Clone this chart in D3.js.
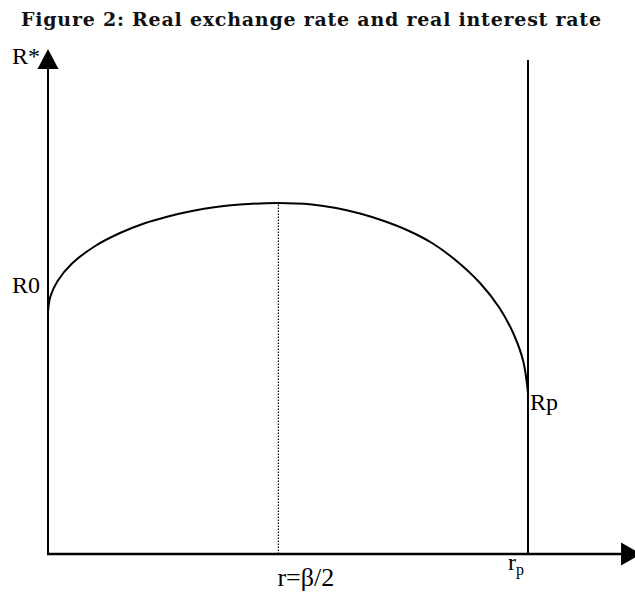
<!DOCTYPE html>
<html>
<head>
<meta charset="utf-8">
<script src="https://cdn.jsdelivr.net/npm/d3@7"></script>
<style>
  html, body { margin: 0; padding: 0; background: #fff; }
  svg { display: block; }
  .lbl { font-family: "Liberation Serif", "Times New Roman", Times, serif; }
</style>
</head>
<body>
<svg id="chart" width="635" height="594"></svg>
<script>
// Real interest rate r (horizontal) and the real exchange rate R* (vertical)
const rValues = [0, 0.5, 2, 5, 10, 15, 20, 25, 30, 35, 40, 48, 55, 60, 65, 70, 75, 80, 85, 90, 94, 97, 99, 100];
const rStarValues = [48.4, 51.5, 54.6, 58.1, 61.7, 64.2, 66.1, 67.5, 68.6, 69.4, 69.9, 70.2,
                     69.9, 69.2, 68.1, 66.6, 64.7, 62.2, 58.7, 54.2, 49.3, 44.0, 38.6, 32.2];

// Key points on the axes
const rHalfBeta = 48;      // r = β/2, where R* peaks
const rCeiling = 100;      // r_p
const rStarPeak = 70.2;
const rCeilingTop = 98.8;
const xAxisMax = 122.3;
const yAxisMax = 101;

const titleText = "Figure 2: Real exchange rate and real interest rate";
const yAxisLabel = "R*";
const r0Label = "R0";
const rpLabel = "Rp";
const betaLabel = "r=\u03b2/2";

const svg = d3.select("#chart");

const x = d3.scaleLinear().domain([0, 100]).range([48, 528]);
const y = d3.scaleLinear().domain([0, 100]).range([554, 54]);

// Title
svg.append("text")
  .attr("x", 311)
  .attr("y", 26)
  .attr("text-anchor", "middle")
  .attr("font-family", "'DejaVu Serif', serif")
  .attr("font-weight", "bold")
  .attr("font-size", 19)
  .attr("textLength", 580)
  .attr("lengthAdjust", "spacing")
  .attr("fill", "#111")
  .text(titleText);

// Axes
svg.append("line")
  .attr("x1", x(0)).attr("y1", y(0))
  .attr("x2", x(0)).attr("y2", y(yAxisMax) + 18)
  .attr("stroke", "#000").attr("stroke-width", 2);

svg.append("line")
  .attr("x1", x(0) - 1).attr("y1", y(0))
  .attr("x2", x(xAxisMax) - 14).attr("y2", y(0))
  .attr("stroke", "#000").attr("stroke-width", 2.4);

// Arrow heads
const yTip = [x(0), y(yAxisMax)];
svg.append("path")
  .attr("d", `M${yTip[0]},${yTip[1]} L${yTip[0] - 10.5},${yTip[1] + 20} L${yTip[0] + 10.5},${yTip[1] + 20} Z`)
  .attr("fill", "#000");

const xTip = [x(xAxisMax) + 6, y(0)];
svg.append("path")
  .attr("d", `M${xTip[0]},${xTip[1]} L${xTip[0] - 20},${xTip[1] - 11.5} L${xTip[0] - 20},${xTip[1] + 11.5} Z`)
  .attr("fill", "#000");

// Vertical line at r_p
svg.append("line")
  .attr("x1", x(rCeiling)).attr("y1", y(0))
  .attr("x2", x(rCeiling)).attr("y2", y(rCeilingTop))
  .attr("stroke", "#000").attr("stroke-width", 2);

// Dotted line at r = β/2
svg.append("line")
  .attr("x1", x(rHalfBeta)).attr("y1", y(0))
  .attr("x2", x(rHalfBeta)).attr("y2", y(rStarPeak))
  .attr("stroke", "#000").attr("stroke-width", 1.2)
  .attr("stroke-dasharray", "1.5,1.5");

// R*(r) curve
const points = rValues.map((r, i) => [r, rStarValues[i]]);
const line = d3.line()
  .x(d => x(d[0]))
  .y(d => y(d[1]))
  .curve(d3.curveCatmullRom.alpha(0.5));

svg.append("path")
  .datum(points)
  .attr("d", line)
  .attr("fill", "none")
  .attr("stroke", "#000")
  .attr("stroke-width", 2);

// Labels
const label = (txt, px, py, size, anchor) =>
  svg.append("text")
    .attr("class", "lbl")
    .attr("x", px).attr("y", py)
    .attr("font-size", size)
    .attr("text-anchor", anchor || "start")
    .attr("fill", "#000")
    .text(txt);

label(yAxisLabel, 12, 64, 24);
label(r0Label, 12, 293, 24);
label(rpLabel, x(rCeiling) + 2, 410, 24);
label(betaLabel, x(rHalfBeta) - 1, 586, 26);

const rp = svg.append("text")
  .attr("class", "lbl")
  .attr("x", x(rCeiling) - 20)
  .attr("y", 570)
  .attr("font-size", 24)
  .attr("fill", "#000");
rp.append("tspan").text("r");
rp.append("tspan").attr("font-size", 16).attr("dy", 5).text("p");
</script>
</body>
</html>
